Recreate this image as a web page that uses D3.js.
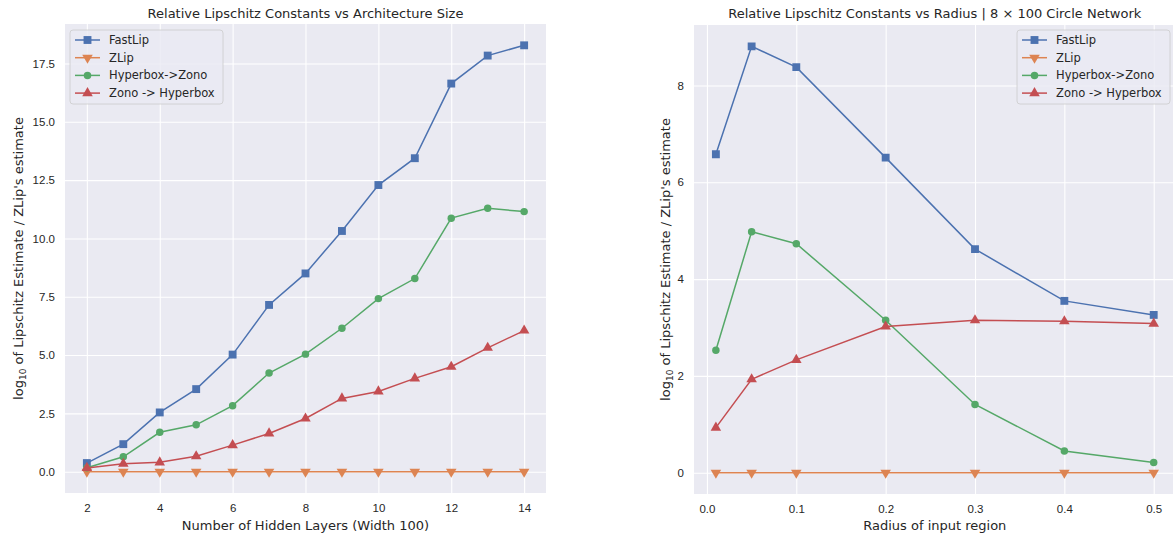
<!DOCTYPE html>
<html lang="en">
<head>
<meta charset="UTF-8">
<title>Relative Lipschitz Constants</title>
<script src="https://cdn.jsdelivr.net/npm/d3@7"></script>
<style>
  body { margin: 0; background: #fff; }
  svg { font-family: "DejaVu Sans", sans-serif; }
</style>
</head>
<body>
<svg id="chart" width="1173" height="533"></svg>
<script>
// ---- data ----
const layers = [2, 3, 4, 5, 6, 7, 8, 9, 10, 11, 12, 13, 14];
const layersFastLip = [0.37, 1.18, 2.54, 3.54, 5.02, 7.15, 8.5, 10.32, 12.29, 13.44, 16.64, 17.84, 18.28];
const layersZLip = [0, 0, 0, 0, 0, 0, 0, 0, 0, 0, 0, 0, 0];
const layersHyperZono = [0.17, 0.64, 1.69, 2.01, 2.83, 4.23, 5.04, 6.15, 7.42, 8.28, 10.87, 11.29, 11.15];
const layersZonoHyper = [0.16, 0.34, 0.4, 0.66, 1.14, 1.64, 2.28, 3.14, 3.44, 4.0, 4.5, 5.31, 6.05];
const layerTicks = [2, 4, 6, 8, 10, 12, 14];
const layerYTicks = [0, 2.5, 5, 7.5, 10, 12.5, 15, 17.5];

const radii = [0.01, 0.05, 0.1, 0.2, 0.3, 0.4, 0.5];
const radiusFastLip = [6.58, 8.81, 8.38, 6.51, 4.62, 3.55, 3.26];
const radiusZLip = [0, 0, 0, 0, 0, 0, 0];
const radiusHyperZono = [2.53, 4.98, 4.73, 3.15, 1.41, 0.45, 0.21];
const radiusZonoHyper = [0.93, 1.93, 2.33, 3.02, 3.15, 3.13, 3.08];
const radiusTicks = [0, 0.1, 0.2, 0.3, 0.4, 0.5];
const radiusYTicks = [0, 2, 4, 6, 8];

const seriesNames = ["FastLip", "ZLip", "Hyperbox->Zono", "Zono -> Hyperbox"];
const colors = ["#4C72B0", "#DD8452", "#55A868", "#C44E52"];
const shapes = ["square", "down", "circle", "up"];

const svg = d3.select("#chart");

function marker(g, shape, color, x, y) {
  let sym, size, rot = 0;
  if (shape === "square") { sym = d3.symbolSquare; size = 62; }
  else if (shape === "circle") { sym = d3.symbolCircle; size = 44; }
  else if (shape === "up") { sym = d3.symbolTriangle; size = 48; }
  else { sym = d3.symbolTriangle; size = 48; rot = 180; }
  g.append("path")
    .attr("d", d3.symbol().type(sym).size(size)())
    .attr("transform", `translate(${x},${y}) rotate(${rot})`)
    .attr("fill", color);
}

function panel(opts) {
  const g = svg.append("g");
  const x = d3.scaleLinear().domain(opts.xDomain).range([opts.left, opts.right]);
  const y = d3.scaleLinear().domain(opts.yDomain).range([opts.bottom, opts.top]);

  const clipId = "clip" + opts.id;
  svg.append("clipPath").attr("id", clipId).append("rect")
    .attr("x", opts.left).attr("y", opts.top)
    .attr("width", opts.right - opts.left).attr("height", opts.bottom - opts.top);

  g.append("rect")
    .attr("x", opts.left).attr("y", opts.top)
    .attr("width", opts.right - opts.left).attr("height", opts.bottom - opts.top)
    .attr("fill", "#EAEAF2");

  // grid via axes
  const gx = g.append("g").attr("transform", `translate(0,${opts.bottom})`)
    .call(d3.axisBottom(x).tickValues(opts.xTicks).tickFormat(opts.xFmt)
      .tickSize(-(opts.bottom - opts.top)).tickPadding(11));
  const gy = g.append("g").attr("transform", `translate(${opts.left},0)`)
    .call(d3.axisLeft(y).tickValues(opts.yTicks).tickFormat(opts.yFmt)
      .tickSize(-(opts.right - opts.left)).tickPadding(10));
  [gx, gy].forEach(a => {
    a.select(".domain").remove();
    a.selectAll(".tick line").attr("stroke", "#fff").attr("stroke-width", 1.1);
    a.selectAll(".tick text").attr("fill", "#262626").style("font-size", "11.5px");
  });

  const plot = g.append("g").attr("clip-path", `url(#${clipId})`);
  const line = d3.line().x(d => x(d[0])).y(d => y(d[1]));
  opts.series.forEach((vals, i) => {
    const pts = opts.xs.map((v, j) => [v, vals[j]]);
    plot.append("path").attr("d", line(pts))
      .attr("fill", "none").attr("stroke", colors[i]).attr("stroke-width", 1.5);
    pts.forEach(p => marker(plot, shapes[i], colors[i], x(p[0]), y(p[1])));
  });

  // title and labels
  g.append("text").attr("x", (opts.left + opts.right) / 2).attr("y", 18)
    .attr("text-anchor", "middle").attr("fill", "#262626").style("font-size", "13px")
    .text(opts.title);
  g.append("text").attr("x", (opts.left + opts.right) / 2).attr("y", 530)
    .attr("text-anchor", "middle").attr("fill", "#262626").style("font-size", "13px")
    .text(opts.xLabel);
  const yl = g.append("text")
    .attr("transform", `translate(${opts.yLabelX},${(opts.top + opts.bottom) / 2}) rotate(-90)`)
    .attr("text-anchor", "middle").attr("fill", "#262626").style("font-size", "13px");
  yl.append("tspan").text("log");
  yl.append("tspan").attr("dy", 3).style("font-size", "9px").text("10");
  yl.append("tspan").attr("dy", -3).text(" of Lipschitz Estimate / ZLip's estimate");

  // legend
  const lg = g.append("g").attr("transform", `translate(${opts.legendX},30)`);
  lg.append("rect").attr("width", 153).attr("height", 74).attr("rx", 3)
    .attr("fill", "#EAEAF2").attr("fill-opacity", 0.8)
    .attr("stroke", "#cccccc").attr("stroke-width", 0.8);
  seriesNames.forEach((name, i) => {
    const yy = 10 + i * 17.7;
    lg.append("line").attr("x1", 5).attr("x2", 30).attr("y1", yy).attr("y2", yy)
      .attr("stroke", colors[i]).attr("stroke-width", 1.5);
    marker(lg, shapes[i], colors[i], 17.5, yy);
    lg.append("text").attr("x", 39).attr("y", yy + 4).attr("fill", "#262626")
      .style("font-size", "11.5px").text(name);
  });
}

panel({
  id: "L", left: 65, right: 546, top: 24, bottom: 493,
  xDomain: [1.4, 14.6], yDomain: [-0.914, 19.194],
  xs: layers, series: [layersFastLip, layersZLip, layersHyperZono, layersZonoHyper],
  xTicks: layerTicks, yTicks: layerYTicks,
  xFmt: d3.format("d"), yFmt: d3.format(".1f"),
  title: "Relative Lipschitz Constants vs Architecture Size",
  xLabel: "Number of Hidden Layers (Width 100)",
  yLabelX: 23, legendX: 70
});

panel({
  id: "R", left: 694, right: 1175.6, top: 25, bottom: 494,
  xDomain: [-0.0145, 0.5245], yDomain: [-0.4405, 9.2505],
  xs: radii, series: [radiusFastLip, radiusZLip, radiusHyperZono, radiusZonoHyper],
  xTicks: radiusTicks, yTicks: radiusYTicks,
  xFmt: d3.format(".1f"), yFmt: d3.format("d"),
  title: "Relative Lipschitz Constants vs Radius | 8 \u00d7 100 Circle Network",
  xLabel: "Radius of input region",
  yLabelX: 670, legendX: 1017
});
</script>
</body>
</html>
